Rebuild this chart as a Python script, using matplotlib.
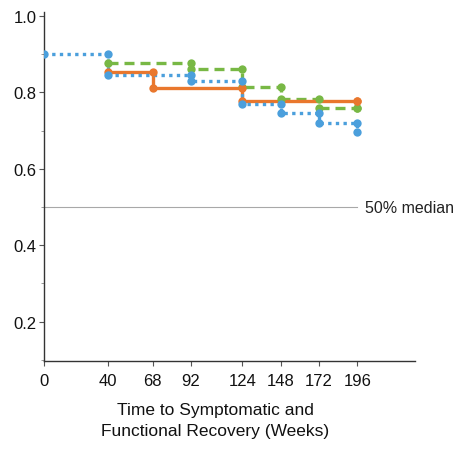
import numpy as np
import matplotlib
matplotlib.use("Agg")
import matplotlib.pyplot as plt
from matplotlib.ticker import MultipleLocator

plt.rcParams['font.family'] = ['Liberation Sans', 'DejaVu Sans']

# recovery curves (step times in weeks, proportion not yet recovered)
week_ticks = [0, 40, 68, 92, 124, 148, 172, 196]

blue_t = [0, 40, 92, 124, 148, 172, 196]
blue_s = [0.90, 0.845, 0.83, 0.77, 0.745, 0.72, 0.695]

orange_t = [40, 68, 124, 196]
orange_s = [0.853, 0.811, 0.778, 0.778]

green_t = [40, 92, 124, 148, 172, 196]
green_s = [0.877, 0.86, 0.815, 0.783, 0.759, 0.759]

median_level = 0.5

BLUE = "#4b9fdc"
ORANGE = "#e9772d"
GREEN = "#78b845"


def step_markers(t, s):
    """points at the top and bottom of every drop"""
    xs, ys = [t[0]], [s[0]]
    for i in range(1, len(t)):
        xs += [t[i], t[i]]
        ys += [s[i - 1], s[i]]
    return xs, ys


fig = plt.figure(figsize=(4.53, 4.52), dpi=100)
ax = fig.add_axes([0.097, 0.199, 0.819, 0.772])

ax.axhline(median_level, xmin=0, xmax=196 / 232, color="#a8a8a8", lw=0.8, zorder=1)
ax.text(201, median_level, "50% median", fontsize=11.5, va="center", ha="left",
        color="#222222", clip_on=False)

curves = [
    (green_t, green_s, GREEN, (0, (3, 1.8))),
    (orange_t, orange_s, ORANGE, "-"),
    (blue_t, blue_s, BLUE, (0, (1, 1.3))),
]
for t, s, c, ls in curves:
    ax.plot(t, s, drawstyle="steps-post", color=c, lw=2.4, ls=ls,
            solid_capstyle="butt", zorder=2)
    mx, my = step_markers(t, s)
    ax.plot(mx, my, ls="none", marker="o", ms=6, color=c, mec="none", zorder=3)

ax.set_xlim(0, 232)
ax.set_ylim(0.097, 1.01)
ax.set_xticks(week_ticks)
ax.set_yticks([0.2, 0.4, 0.6, 0.8, 1.0])
ax.set_yticklabels(["0.2", "0.4", "0.6", "0.8", "1.0"])
ax.yaxis.set_minor_locator(MultipleLocator(0.1))

for side in ["top", "right"]:
    ax.spines[side].set_visible(False)
for side in ["left", "bottom"]:
    ax.spines[side].set_color("#333333")
    ax.spines[side].set_linewidth(1.0)

ax.tick_params(axis="both", which="major", length=3.5, width=0.8, labelsize=12,
               color="#555555", labelcolor="#111111", pad=2)
ax.tick_params(axis="y", which="minor", length=2.5, width=0.6, color="#888888")
ax.tick_params(axis="x", pad=5)

ax.text(107, -0.118, "Time to Symptomatic and\nFunctional Recovery (Weeks)",
        transform=ax.get_xaxis_transform(), ha="center", va="top",
        fontsize=12.5, linespacing=1.5, color="#111111")

fig.savefig("out.png", dpi=100)
